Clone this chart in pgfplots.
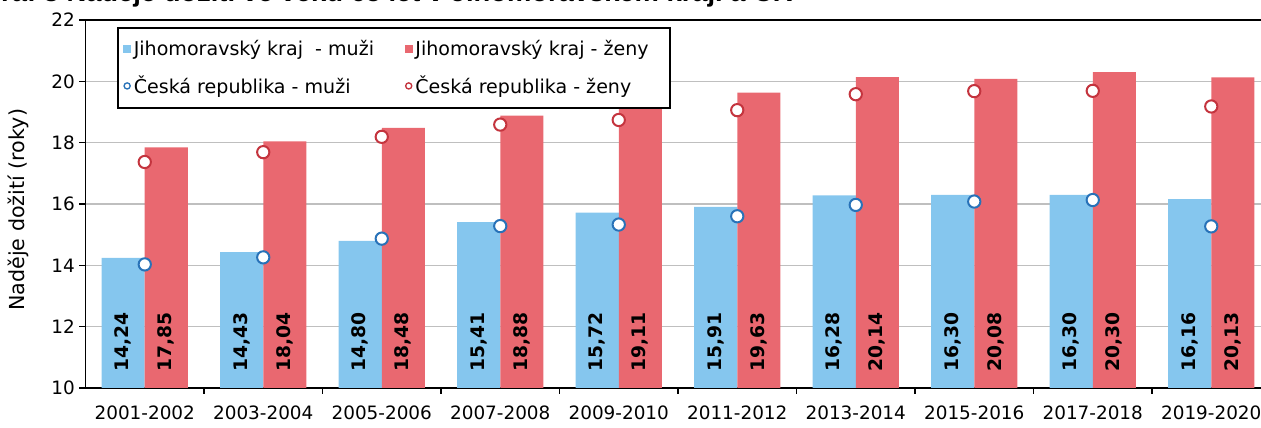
\documentclass[border=0pt]{standalone}
\usepackage{fontspec}
\setmainfont{DejaVu Sans}
\newfontfamily\titlefont{Liberation Sans}
\usepackage{pgfplots}
\pgfplotsset{compat=1.18}
\usepackage{pgfplotstable}
\definecolor{barB}{RGB}{133,198,238}
\definecolor{barR}{RGB}{233,104,112}
\definecolor{mkB}{RGB}{40,114,184}
\definecolor{mkR}{RGB}{196,52,62}
\definecolor{gridc}{RGB}{191,191,191}

\pgfplotstableread{
x jm jz lm lz
0 14.24 17.85 14,24 17,85
1 14.43 18.04 14,43 18,04
2 14.80 18.48 14,80 18,48
3 15.41 18.88 15,41 18,88
4 15.72 19.11 15,72 19,11
5 15.91 19.63 15,91 19,63
6 16.28 20.14 16,28 20,14
7 16.30 20.08 16,30 20,08
8 16.30 20.30 16,30 20,30
9 16.16 20.13 16,16 20,13
}\jmkdata

\pgfplotstableread{
x cm cz
0 14.03 17.37
1 14.26 17.69
2 14.87 18.19
3 15.28 18.59
4 15.33 18.74
5 15.60 19.06
6 15.97 19.58
7 16.08 19.68
8 16.13 19.69
9 15.27 19.18
}\crdata

\begin{document}
\begin{tikzpicture}
\node[anchor=base east, inner sep=0pt, font=\titlefont\bfseries\fontsize{20.5pt}{24pt}\selectfont] at (594.75pt,320pt) {Graf 8 Naděje dožití ve věku 65 let v Jihomoravském kraji a ČR};
\begin{axis}[
  at={(64.125pt,30pt)}, anchor=south west,
  scale only axis, width=888.75pt, height=276pt,
  xmin=-0.5, xmax=9.5, ymin=10, ymax=22,
  ytick={10,12,...,22},
  xtick={0.5,1.5,...,8.5}, xticklabel=\empty,
  extra x ticks={0,1,...,9},
  extra x tick labels={2001-2002,2003-2004,2005-2006,2007-2008,2009-2010,2011-2012,2013-2014,2015-2016,2017-2018,2019-2020},
  extra x tick style={major tick length=0pt, tick label style={yshift=-9.5pt}},
  xtick pos=bottom, ytick pos=left,
  tick align=outside, major tick length=4.5pt,
  tick style={black, line width=1pt},
  ymajorgrids, grid style={gridc, line width=1.1pt},
  axis line style={black, line width=1.2pt},
  tick label style={font=\fontsize{13.8pt}{16pt}\selectfont},
  /pgf/number format/assume math mode=true,
  ylabel={Naděje dožití (roky)},
  ylabel style={font=\fontsize{15.5pt}{18pt}\selectfont, at={(axis description cs:-0.057,0.484)}, anchor=center},
  legend columns=2,
  legend cell align=left,
  legend style={at={(axis description cs:0.0266,0.98)}, anchor=north west,
    draw=black, line width=1.2pt, font=\fontsize{14.3pt}{16pt}\selectfont,
    inner xsep=4pt, inner ysep=7pt,
    /tikz/every even column/.append style={column sep=21pt},
    row sep=10pt},
]
\addplot[ybar, bar width=0.363, bar shift=-0.1815, fill=barB, draw=none,
  legend image code/.code={\fill[barB] (0pt,-3pt) rectangle (6pt,3pt);}]
  table[x=x, y=jm] {\jmkdata};
\addlegendentry{Jihomoravský kraj \ - muži}
\addplot[ybar, bar width=0.363, bar shift=0.1815, fill=barR, draw=none,
  legend image code/.code={\fill[barR] (0pt,-3pt) rectangle (6pt,3pt);}]
  table[x=x, y=jz] {\jmkdata};
\addlegendentry{Jihomoravský kraj - ženy\rule{10pt}{0pt}}
\addplot[only marks, mark=*, mark size=4.6pt, mark options={draw=mkB, fill=white, line width=1.5pt},
  legend image code/.code={\draw[mkB, fill=white, line width=1pt] (3pt,0pt) circle (2.3pt);}]
  table[x=x, y=cm] {\crdata};
\addlegendentry{Česká republika - muži}
\addplot[only marks, mark=*, mark size=4.6pt, mark options={draw=mkR, fill=white, line width=1.5pt},
  legend image code/.code={\draw[mkR, fill=white, line width=1pt] (3pt,0pt) circle (2.3pt);}]
  table[x=x, y=cz] {\crdata};
\addlegendentry{Česká republika - ženy}
\addplot[forget plot, draw=none, mark=none, nodes near coords, point meta=explicit symbolic,
  every node near coord/.style={rotate=90, anchor=west, inner sep=0pt, black, font=\bfseries\fontsize{14pt}{16pt}\selectfont}]
  table[x expr=\thisrow{x}-0.1815, y expr=10.52, meta=lm] {\jmkdata};
\addplot[forget plot, draw=none, mark=none, nodes near coords, point meta=explicit symbolic,
  every node near coord/.style={rotate=90, anchor=west, inner sep=0pt, black, font=\bfseries\fontsize{14pt}{16pt}\selectfont}]
  table[x expr=\thisrow{x}+0.1815, y expr=10.52, meta=lz] {\jmkdata};
\end{axis}
\pgfresetboundingbox
\path[use as bounding box] (0pt,0pt) rectangle (945.75pt,321pt);
\end{tikzpicture}
\end{document}
